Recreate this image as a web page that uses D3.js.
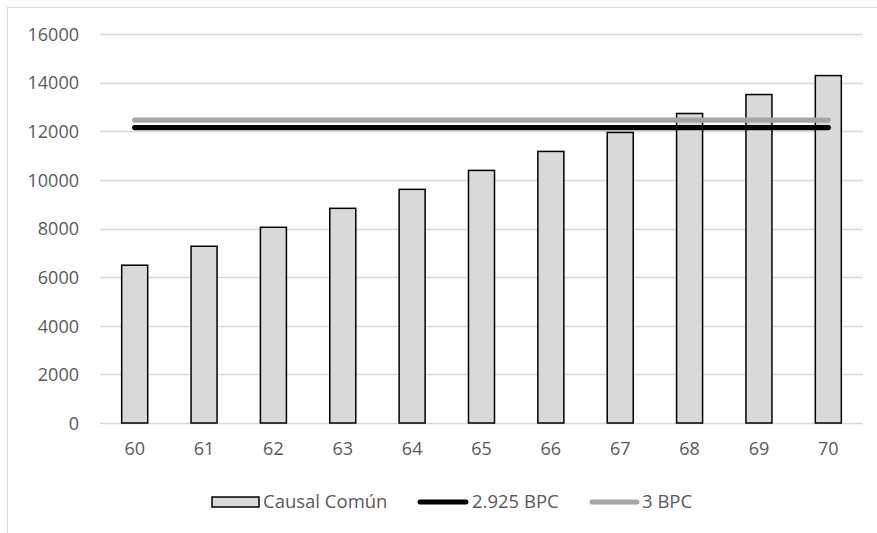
<!DOCTYPE html>
<html>
<head>
<meta charset="utf-8">
<script src="https://cdn.jsdelivr.net/npm/d3@7"></script>
<style>
  html, body { margin: 0; padding: 0; background: #fff; }
  svg { display: block; }
  text { font-family: "Open Sans", "Noto Sans", sans-serif; fill: #595959; }
</style>
</head>
<body>
<svg id="chart" width="877" height="533"></svg>
<script>
const categories = ["60", "61", "62", "63", "64", "65", "66", "67", "68", "69", "70"];
const causalComun = [6490, 7270, 8050, 8830, 9610, 10390, 11170, 11950, 12730, 13510, 14290];
const bpc2925 = [12150, 12150, 12150, 12150, 12150, 12150, 12150, 12150, 12150, 12150, 12150];
const bpc3 = [12460, 12460, 12460, 12460, 12460, 12460, 12460, 12460, 12460, 12460, 12460];
const yTicks = [0, 2000, 4000, 6000, 8000, 10000, 12000, 14000, 16000];
const seriesNames = ["Causal Común", "2.925 BPC", "3 BPC"];

const svg = d3.select("#chart");
const W = 877, H = 533;
const plot = { left: 100, right: 863, top: 34, bottom: 423 };

// chart border
svg.append("rect")
  .attr("x", 7.5).attr("y", 7.5)
  .attr("width", 1000).attr("height", 1000)
  .attr("fill", "none").attr("stroke", "#d9d9d9").attr("stroke-width", 1);

const x = d3.scaleBand().domain(categories).range([plot.left, plot.right]).padding(0);
const y = d3.scaleLinear().domain([0, 16000]).range([plot.bottom, plot.top]);

// gridlines
svg.append("g").selectAll("line").data(yTicks).join("line")
  .attr("x1", plot.left).attr("x2", plot.right)
  .attr("y1", d => Math.round(y(d)) + 0.5).attr("y2", d => Math.round(y(d)) + 0.5)
  .attr("stroke", "#d9d9d9").attr("stroke-width", 1.3);

// y axis labels
const yAxis = d3.axisLeft(y).tickValues(yTicks).tickSize(0).tickPadding(0).tickFormat(d3.format("d"));
const gy = svg.append("g").attr("transform", `translate(${plot.left - 21},0)`).call(yAxis);
gy.select(".domain").remove();
gy.selectAll("text").attr("font-size", 18).attr("fill", "#595959")
  .style("font-family", "'Open Sans', sans-serif").attr("dy", "0.35em");

// x axis labels
const xAxis = d3.axisBottom(x).tickSize(0).tickPadding(0);
const gx = svg.append("g").attr("transform", `translate(0,${plot.bottom + 19})`).call(xAxis);
gx.select(".domain").remove();
gx.selectAll("text").attr("font-size", 18).attr("fill", "#595959")
  .style("font-family", "'Open Sans', sans-serif").attr("dy", "0.71em");

// bars
const bw = x.bandwidth() * 0.375;
svg.append("g").selectAll("rect").data(categories).join("rect")
  .attr("x", (d) => x(d) + (x.bandwidth() - bw) / 2)
  .attr("y", (d, i) => y(causalComun[i]))
  .attr("width", bw)
  .attr("height", (d, i) => y(0) - y(causalComun[i]))
  .attr("fill", "#d9d9d9").attr("stroke", "#000").attr("stroke-width", 1.5);

// lines
const line = d3.line().x(d => x(d[0]) + x.bandwidth() / 2).y(d => y(d[1]));
svg.append("path").datum(categories.map((c, i) => [c, bpc3[i]]))
  .attr("d", line).attr("fill", "none").attr("stroke", "#a5a5a5")
  .attr("stroke-width", 5.3).attr("stroke-linecap", "round");
svg.append("path").datum(categories.map((c, i) => [c, bpc2925[i]]))
  .attr("d", line).attr("fill", "none").attr("stroke", "#000")
  .attr("stroke-width", 5.3).attr("stroke-linecap", "round");

// legend
const ly = 502;
const leg = svg.append("g");
leg.append("rect").attr("x", 212).attr("y", ly - 5).attr("width", 47).attr("height", 10)
  .attr("fill", "#d9d9d9").attr("stroke", "#000").attr("stroke-width", 1.5);
leg.append("text").attr("x", 263).attr("y", ly).attr("dy", "0.35em")
  .attr("font-size", 18.5).text(seriesNames[0]);
leg.append("line").attr("x1", 420).attr("x2", 466).attr("y1", ly).attr("y2", ly)
  .attr("stroke", "#000").attr("stroke-width", 5).attr("stroke-linecap", "round");
leg.append("text").attr("x", 472).attr("y", ly).attr("dy", "0.35em")
  .attr("font-size", 18.5).text(seriesNames[1]);
leg.append("line").attr("x1", 592).attr("x2", 637).attr("y1", ly).attr("y2", ly)
  .attr("stroke", "#a5a5a5").attr("stroke-width", 5).attr("stroke-linecap", "round");
leg.append("text").attr("x", 642).attr("y", ly).attr("dy", "0.35em")
  .attr("font-size", 18.5).text(seriesNames[2]);
</script>
</body>
</html>
